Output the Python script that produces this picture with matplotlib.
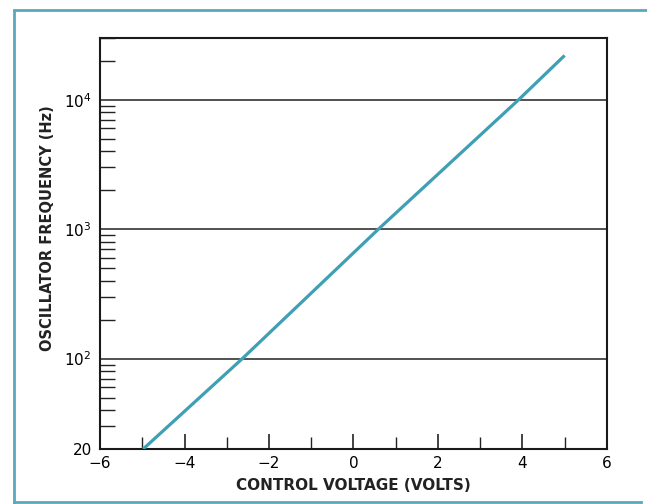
import matplotlib
matplotlib.use("Agg")
import matplotlib.pyplot as plt
from matplotlib.lines import Line2D
from matplotlib.ticker import FixedLocator, LogLocator, NullFormatter
import numpy as np

# values
control_voltage = [-4.98, -2.63, 0.59, 3.91, 5.0]
osc_frequency = [20, 100, 1000, 10000, 22000]

x_major = [-6, -4, -2, 0, 2, 4, 6]
x_minor = [-5, -3, -1, 1, 3, 5]
y_major = [20, 100, 1000, 10000]
y_major_labels = ["20", "$10^2$", "$10^3$", "$10^4$"]
y_grid = [100, 1000, 10000]

line_color = "#3f9fb4"
frame_color = "#5aa9ba"

plt.rcParams['font.family'] = ['DejaVu Sans']

fig = plt.figure(figsize=(6.47, 5.04), dpi=100)
ax = fig.add_axes([0.1546, 0.109, 0.7834, 0.8156])

ax.set_yscale("log")
ax.set_xlim(-6, 6)
ax.set_ylim(20, 30000)

for g in y_grid:
    ax.axhline(g, color="#222222", lw=1.1, zorder=1)

ax.plot(control_voltage, osc_frequency, color=line_color, lw=2.3, zorder=3,
        solid_capstyle="butt")

ax.xaxis.set_major_locator(FixedLocator(x_major))
ax.xaxis.set_minor_locator(FixedLocator(x_minor))
ax.set_xticklabels([str(v).replace("-", "\u2212") for v in x_major])
ax.yaxis.set_major_locator(FixedLocator(y_major))
ax.set_yticklabels(y_major_labels)
ax.yaxis.set_minor_locator(LogLocator(base=10, subs=np.arange(2, 10)))
ax.yaxis.set_minor_formatter(NullFormatter())

ax.tick_params(axis="x", which="major", direction="in", length=11, width=1.2,
               labelsize=11, pad=5, color="#222222")
ax.tick_params(axis="x", which="minor", direction="in", length=9, width=1.0,
               color="#222222")
ax.tick_params(axis="y", which="major", direction="in", length=0, labelsize=11,
               pad=6)
ax.tick_params(axis="y", which="minor", direction="in", length=11, width=1.0,
               color="#222222")

for s in ax.spines.values():
    s.set_linewidth(1.5)
    s.set_color("#1a1a1a")

ax.set_xlabel("CONTROL VOLTAGE (VOLTS)", fontsize=11, fontweight="bold",
              labelpad=5, color="#222222")
ax.set_ylabel("OSCILLATOR FREQUENCY (Hz)", fontsize=10.5, fontweight="bold",
              color="#222222")
ax.yaxis.set_label_coords(-0.089, 0.538)

# scan border
fig.add_artist(Line2D([0.021, 0.021], [0.0, 0.978], transform=fig.transFigure,
                      color=frame_color, lw=2))
fig.add_artist(Line2D([0.021, 1.0], [0.98, 0.98], transform=fig.transFigure,
                      color=frame_color, lw=2))
fig.add_artist(Line2D([0.021, 0.99], [0.004, 0.004], transform=fig.transFigure,
                      color=frame_color, lw=2))

fig.savefig("out.png", dpi=100)
